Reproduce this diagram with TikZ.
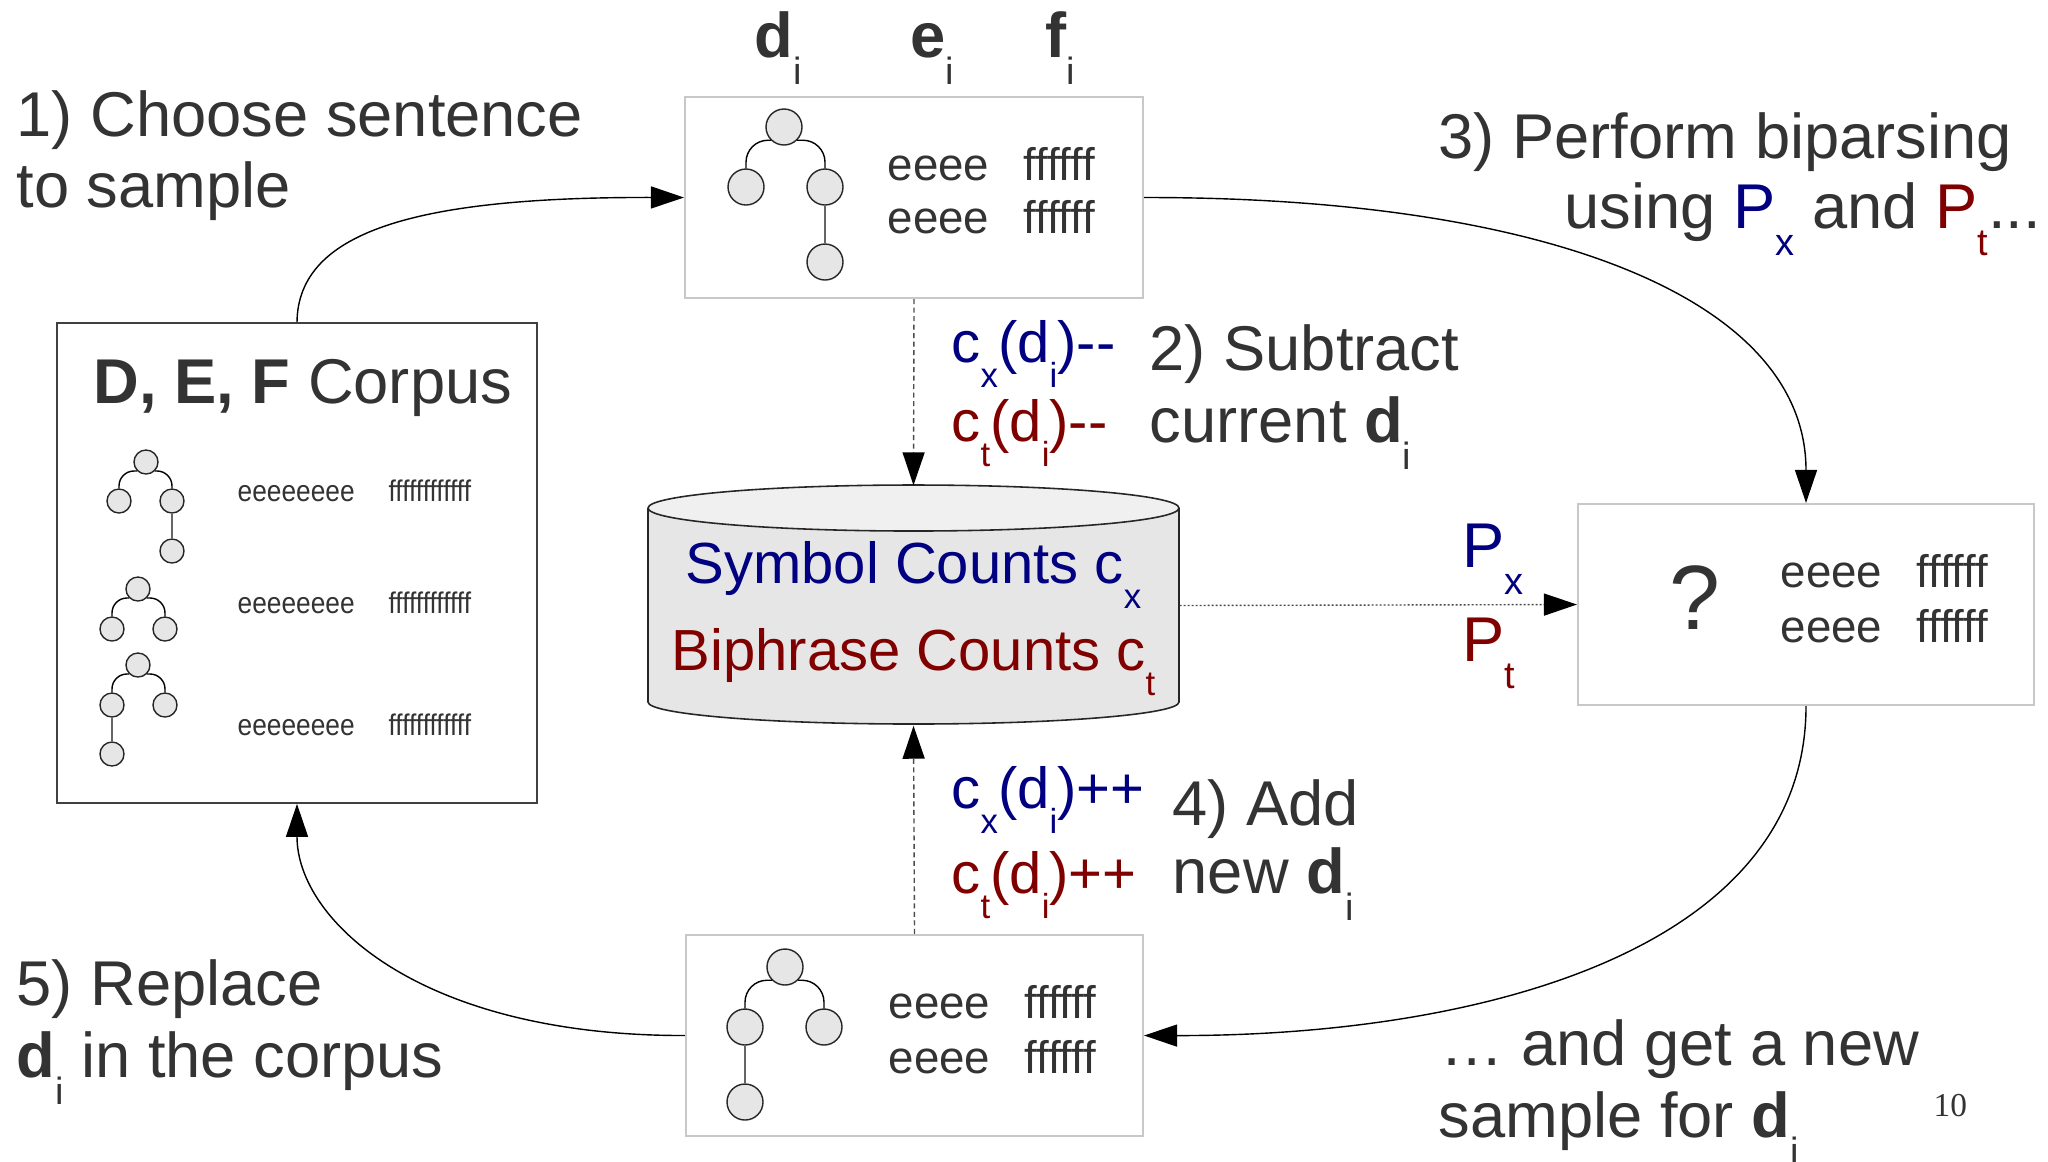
\documentclass[tikz,border=0pt]{standalone}
\usepackage{fontspec}
\setmainfont{Liberation Sans}
\newfontfamily\serifnum{Liberation Serif}
\usepackage{graphicx}
\usetikzlibrary{arrows.meta}
\definecolor{txt}{HTML}{333333}
\definecolor{navyc}{HTML}{000080}
\definecolor{maroonc}{HTML}{800000}
\definecolor{boxline}{HTML}{C8C8C8}
\definecolor{nodefill}{HTML}{E6E6E6}
\definecolor{cylbody}{HTML}{E6E6E6}
\definecolor{cyltop}{HTML}{F0F0F0}
\newcommand\lsub[1]{\raisebox{-0.44em}{\scalebox{0.6}{#1}}}
\newcommand\fsz[1]{\fontsize{#1}{#1}\selectfont}
\begin{document}
\begin{tikzpicture}[x=0.1mm,y=0.1mm,
  lbl/.style={inner sep=0pt, anchor=base west, text=txt, font=\fsz{18pt}},
  formula/.style={inner sep=0pt, anchor=base west, font=\fsz{16.5pt}},
  rowtxt/.style={inner sep=0pt, anchor=base west, text=txt, font=\fsz{13pt}},
  corptxt/.style={inner sep=0pt, anchor=base west, text=txt, font=\fsz{8.5pt}},
  sbox/.style={draw=boxline, line width=0.6pt, fill=white, minimum width=45.8mm, minimum height=20.1mm, inner sep=0pt},
  tn/.style={circle, draw=black!85, fill=nodefill, line width=0.4pt, minimum size=3.6mm, inner sep=0pt},
  tns/.style={tn, minimum size=2.4mm},
  elbow/.style={line width=0.4pt, rounded corners=2.2mm},
  elbows/.style={line width=0.4pt, rounded corners=1.5mm},
  stem/.style={line width=0.8pt, draw=black!60},
  arr/.style={line width=0.4pt, -{Triangle[length=3.3mm,width=2.2mm]}},
  dasharr/.style={line width=0.4pt, draw=black!70, dash pattern=on 0.5mm off 0.35mm, -{Triangle[length=3.3mm,width=2.2mm,color=black]}},
  dotarr/.style={line width=0.4pt, draw=black!70, dash pattern=on 0.2mm off 0.2mm, -{Triangle[length=3.3mm,width=2.2mm,color=black]}},
  hidden/.style={inner sep=0pt, minimum width=53.1mm, minimum height=23.9mm}
]
\useasboundingbox (0,0) rectangle (2048,-1161);
\fill[white] (0,0) rectangle (2048,-1161);

% ---------- boxes ----------
\node[draw=black!75, line width=0.5pt, fill=white, minimum width=48mm, minimum height=48mm, inner sep=0pt] (corpus) at (297,-563) {};
\node[sbox] (top) at (914,-197.5) {};
\node[sbox, minimum width=45.6mm] (right) at (1806,-604.5) {};
\node[sbox, minimum width=45.7mm] (bottom) at (914.5,-1035.5) {};

% ---------- cylinder ----------
\fill[cylbody] (648,-508) -- (648,-702) arc[start angle=180,end angle=360,x radius=265.5,y radius=22] -- (1179,-508) -- cycle;
\draw[line width=0.45pt, black!85] (648,-508) -- (648,-702) arc[start angle=180,end angle=360,x radius=265.5,y radius=22] -- (1179,-508);
\draw[line width=0.45pt, black!85, fill=cyltop] (913.5,-508) ellipse[x radius=265.5, y radius=23];
\node[hidden] (cyl) at (913.5,-605.5) {};
\node[inner sep=0pt, anchor=base, text=navyc, font=\fsz{16.5pt}] (sym) at (913.5,-583) {Symbol Counts c\lsub{x}};
\node[inner sep=0pt, anchor=base, text=maroonc, font=\fsz{16.5pt}] (bip) at (913.5,-670) {Biphrase Counts c\lsub{t}};

% ---------- top labels ----------
\node[lbl] (ld) at (754,-57) {\textbf{d}\lsub{i}};
\node[lbl] (le) at (910,-57) {\textbf{e}\lsub{i}};
\node[lbl] (lf) at (1045,-57) {\textbf{f}\lsub{i}};

% ---------- top box content ----------
\node[tn] (tr) at (784,-127) {};
\node[tn] (tc1) at (746,-187) {};
\node[tn] (tc2) at (825,-187) {};
\node[tn] (tg) at (825,-262) {};
\draw[elbow] (tr.225) -| (tc1.north);
\draw[elbow] (tr.315) -| (tc2.north);
\draw[stem] (tc2.south) -- (tg.north);
\node[rowtxt] (tt1) at (887,-180) {eeee\hspace{3.4mm}ffffff};
\node[rowtxt] (tt2) at (887,-233) {eeee\hspace{3.4mm}ffffff};

% ---------- bottom box content ----------
\node[tn] (br) at (785,-967) {};
\node[tn] (bc1) at (745,-1027) {};
\node[tn] (bc2) at (824,-1027) {};
\node[tn] (bg) at (745,-1102) {};
\draw[elbow] (br.225) -| (bc1.north);
\draw[elbow] (br.315) -| (bc2.north);
\draw[stem] (bc1.south) -- (bg.north);
\node[rowtxt] (bt1) at (888,-1018) {eeee\hspace{3.4mm}ffffff};
\node[rowtxt] (bt2) at (888,-1073) {eeee\hspace{3.4mm}ffffff};

% ---------- right box content ----------
\node[inner sep=0pt, anchor=base west, text=txt, font=\fsz{26pt}] (qm) at (1669,-629) {?};
\node[rowtxt] (rt1) at (1780,-587) {eeee\hspace{3.4mm}ffffff};
\node[rowtxt] (rt2) at (1780,-642) {eeee\hspace{3.4mm}ffffff};

% ---------- corpus content ----------
\node[inner sep=0pt, anchor=base west, text=txt, font=\fsz{18pt}] (ctitle) at (93,-403) {\textbf{D, E, F} Corpus};
\node[tns] (ar) at (146,-462) {};
\node[tns] (ac1) at (119,-501) {};
\node[tns] (ac2) at (172,-501) {};
\node[tns] (ag) at (172,-551) {};
\draw[elbows] (ar.225) -| (ac1.north);
\draw[elbows] (ar.315) -| (ac2.north);
\draw[stem] (ac2.south) -- (ag.north);
\node[tns] (pr) at (138,-589) {};
\node[tns] (pc1) at (112,-629) {};
\node[tns] (pc2) at (165,-629) {};
\draw[elbows] (pr.225) -| (pc1.north);
\draw[elbows] (pr.315) -| (pc2.north);
\node[tns] (qr) at (138,-665) {};
\node[tns] (qc1) at (112,-705) {};
\node[tns] (qc2) at (165,-705) {};
\node[tns] (qg) at (112,-754) {};
\draw[elbows] (qr.225) -| (qc1.north);
\draw[elbows] (qr.315) -| (qc2.north);
\draw[stem] (qc1.south) -- (qg.north);
\node[corptxt] (ce1) at (237,-501) {\scalebox{0.88}[1]{eeeeeeee\hspace{3.86mm}ffffffffffff}};
\node[corptxt] (ce2) at (237,-613) {\scalebox{0.88}[1]{eeeeeeee\hspace{3.86mm}ffffffffffff}};
\node[corptxt] (ce3) at (237,-735) {\scalebox{0.88}[1]{eeeeeeee\hspace{3.86mm}ffffffffffff}};

% ---------- step texts ----------
\node[lbl] (s1a) at (16,-136) {1) Choose sentence};
\node[lbl] (s1b) at (16,-207) {to sample};
\node[lbl] (s3a) at (1438,-158) {3) Perform biparsing};
\node[lbl] (s3b) at (1564,-228) {using \textcolor{navyc}{P\lsub{x}} and \textcolor{maroonc}{P\lsub{t}}...};
\node[lbl] (s2a) at (1149,-370) {2) Subtract};
\node[lbl] (s2b) at (1149,-442) {current \textbf{d}\lsub{i}};
\node[formula, text=navyc] (c2a) at (951,-362) {c\lsub{x}(d\lsub{i})-{}-};
\node[formula, text=maroonc] (c2b) at (951,-441) {c\lsub{t}(d\lsub{i})-{}-};
\node[lbl] (s4a) at (1172,-825) {4) Add};
\node[lbl] (s4b) at (1172,-893) {new \textbf{d}\lsub{i}};
\node[formula, text=navyc] (c4a) at (951,-808) {c\lsub{x}(d\lsub{i})++};
\node[formula, text=maroonc] (c4b) at (951,-893) {c\lsub{t}(d\lsub{i})++};
\node[lbl] (s5a) at (16,-1005) {5) Replace};
\node[lbl] (s5b) at (16,-1077) {\textbf{d}\lsub{i} in the corpus};
\node[lbl] (s6a) at (1440,-1065) {… and get a new};
\node[lbl] (s6b) at (1438,-1137) {sample for \textbf{d}\lsub{i}};
\node[inner sep=0pt, anchor=base west, font=\serifnum\fsz{9.5pt}, text=txt] (pg) at (1933,-1116) {10};
\node[lbl, text=navyc] (px) at (1462,-567) {P\lsub{x}};
\node[lbl, text=maroonc] (pt) at (1462,-661) {P\lsub{t}};

% ---------- connectors ----------
\draw[arr] (corpus.north) .. controls (298,-230) and (420,-197) .. (top.west);
\draw[arr] (top.east) .. controls (1550,-197) and (1806,-300) .. (right.north);
\draw[arr] (right.south) .. controls (1806,-950) and (1480,-1036) .. (bottom.east);
\draw[arr] (bottom.west) .. controls (420,-1036) and (297,-920) .. (corpus.south);
\draw[dasharr] (top.south) -- (cyl.north);
\draw[dasharr] (bottom.north) -- (cyl.south);
\draw[dotarr] (cyl.east) -- (right.west);
\end{tikzpicture}
\end{document}
